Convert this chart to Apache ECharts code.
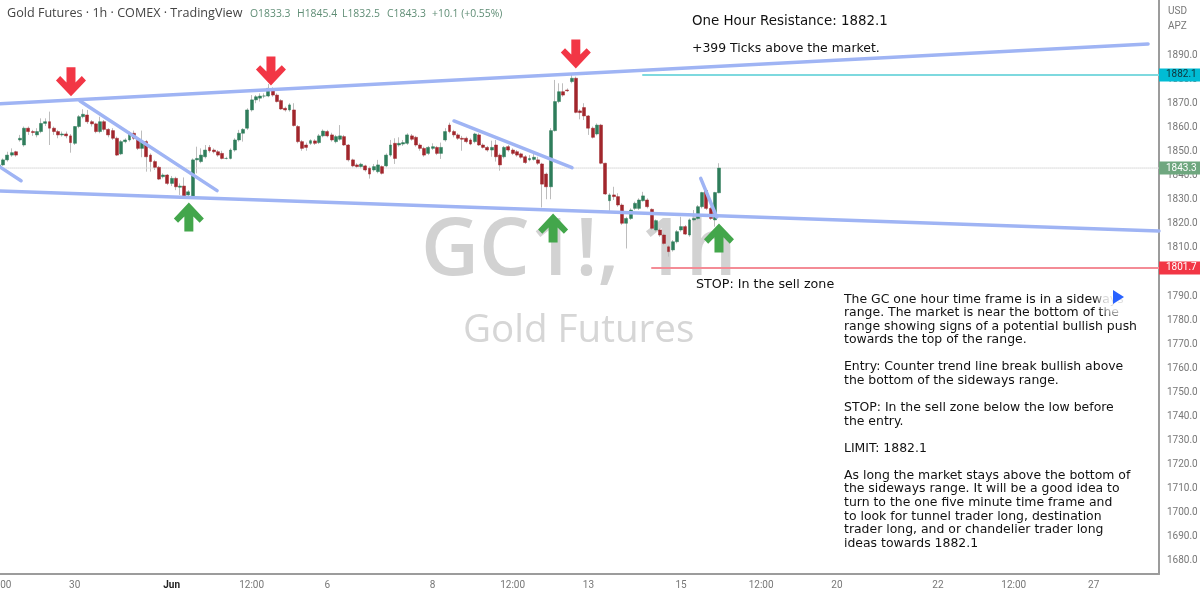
<!DOCTYPE html>
<html>
<head>
<meta charset="utf-8">
<title>Gold Futures 1h</title>
<script src="https://cdn.jsdelivr.net/npm/echarts@6/dist/echarts.min.js"></script>
<style>
html, body { margin: 0; padding: 0; background: #fff; }
#main { width: 1200px; height: 594px; }
</style>
</head>
<body>
<div id="main"></div>
<script>
// candles, left to right
var opens = [
  1843.2,1844.6,1846.7,1848.7,1850.1,1855.0,1852.9,1859.9,1858.5,1857.1,
  1858.5,1861.9,1862.6,1859.9,1858.5,1857.1,1857.5,1856.7,1853.6,1860.6,
  1864.7,1865.4,1862.6,1861.7,1858.5,1862.6,1859.4,1858.9,1855.7,1849.2,
  1854.3,1855.0,1857.8,1855.3,1851.5,1854.3,1848.7,1846.0,1843.6,1839.7,
  1840.4,1836.9,1839.0,1835.3,1835.8,1832.1,1831.4,1846.7,1846.0,1848.0,
  1851.9,1850.8,1850.1,1849.4,1847.3,1847.3,1850.8,1855.0,1857.8,1859.9,
  1867.5,1871.7,1872.4,1873.3,1873.3,1876.1,1873.7,1871.4,1868.2,1867.5,
  1867.5,1860.6,1854.3,1852.9,1853.6,1854.6,1853.9,1856.7,1858.5,1857.1,
  1854.3,1855.3,1856.4,1852.9,1846.7,1844.6,1843.9,1844.2,1843.2,1842.5,
  1841.8,1843.9,1844.2,1848.7,1853.6,1852.9,1853.3,1853.6,1856.7,1856.1,
  1852.9,1851.5,1849.4,1851.5,1851.9,1849.4,1855.0,1861.2,1858.5,1857.1,
  1855.7,1855.7,1855.0,1854.3,1857.1,1852.9,1851.9,1850.8,1852.9,1848.7,
  1848.0,1852.2,1850.8,1850.1,1849.2,1848.0,1846.7,1846.9,1846.7,1845.0,
  1840.8,1835.5,1858.9,1871.0,1875.1,1875.8,1879.3,1880.7,1867.1,1868.5,
  1865.0,1859.9,1857.5,1861.2,1845.3,1829.7,1832.1,1831.4,1827.9,1820.3,
  1822.3,1826.5,1826.5,1829.7,1830.0,1826.1,1817.5,1817.5,1815.4,1810.5,
  1809.2,1812.6,1817.5,1818.9,1815.4,1821.7,1822.3,1827.2,1833.9,1826.5,1821.7,1833.0
];
var closes = [
  1844.6,1846.7,1848.7,1849.7,1848.7,1855.7,1859.9,1858.5,1858.1,1858.5,
  1861.9,1862.6,1859.9,1858.5,1857.1,1857.5,1856.7,1853.9,1860.6,1864.7,
  1865.7,1862.6,1861.7,1858.5,1862.6,1859.4,1857.1,1855.7,1848.7,1854.3,
  1855.0,1857.5,1855.7,1851.5,1854.3,1848.0,1846.0,1843.6,1838.7,1840.4,
  1836.9,1839.0,1835.5,1835.8,1831.4,1833.4,1846.7,1847.3,1848.7,1850.8,
  1850.5,1850.1,1848.7,1847.3,1847.3,1850.8,1855.0,1857.8,1859.4,1867.5,
  1871.7,1873.0,1873.3,1873.3,1876.5,1873.7,1871.0,1867.9,1867.5,1869.6,
  1861.0,1854.3,1851.5,1851.9,1854.7,1853.6,1856.7,1858.7,1856.7,1855.0,
  1856.4,1856.7,1852.9,1846.7,1844.2,1843.9,1844.9,1842.5,1840.8,1843.9,
  1844.6,1841.1,1848.7,1852.9,1847.3,1853.6,1853.9,1857.1,1855.3,1852.9,
  1851.5,1848.7,1851.9,1852.2,1849.4,1851.9,1858.5,1858.5,1857.1,1855.7,
  1855.3,1854.3,1853.3,1857.5,1852.9,1851.9,1850.8,1851.9,1848.0,1844.6,
  1851.9,1850.8,1849.4,1848.7,1847.8,1845.6,1847.3,1847.8,1845.3,1836.6,
  1835.5,1858.9,1871.0,1875.1,1873.7,1875.5,1880.7,1866.5,1866.4,1865.0,
  1859.9,1856.1,1861.2,1845.3,1832.5,1832.1,1831.4,1827.9,1820.3,1822.3,
  1825.8,1828.6,1830.0,1831.7,1827.2,1818.2,1821.4,1815.4,1811.9,1808.5,
  1812.6,1816.8,1818.9,1815.8,1821.7,1822.3,1827.2,1833.1,1826.5,1822.3,1833.1,1843.3
];
var highs = [
  1846.0,1847.3,1850.1,1851.5,1850.5,1857.1,1860.6,1860.6,1859.2,1859.9,
  1864.0,1864.0,1866.8,1860.6,1859.2,1858.5,1858.5,1857.5,1860.8,1865.4,
  1867.8,1867.5,1863.3,1862.2,1864.7,1863.3,1859.9,1859.9,1856.4,1855.0,
  1855.7,1858.5,1858.9,1856.1,1858.9,1855.0,1849.4,1846.7,1844.2,1841.1,
  1840.8,1840.0,1839.7,1836.9,1839.4,1834.1,1847.3,1852.2,1851.5,1852.9,
  1852.9,1851.5,1850.8,1850.5,1848.0,1851.5,1855.7,1859.2,1859.9,1868.2,
  1873.7,1873.7,1874.4,1874.4,1878.3,1876.9,1874.4,1872.0,1868.9,1870.3,
  1870.3,1861.2,1855.0,1853.9,1855.3,1855.3,1857.5,1859.4,1859.2,1858.0,
  1857.1,1861.2,1857.1,1853.3,1847.2,1845.3,1845.5,1844.7,1843.9,1845.0,
  1846.7,1844.4,1849.4,1855.0,1855.7,1856.1,1855.0,1857.8,1857.5,1856.7,
  1853.6,1852.2,1852.5,1853.6,1852.5,1853.9,1859.9,1862.2,1859.2,1857.8,
  1856.7,1856.4,1855.7,1858.0,1857.8,1853.6,1852.5,1854.7,1855.0,1849.4,
  1852.5,1852.9,1851.5,1850.8,1849.7,1848.7,1848.7,1849.4,1848.0,1845.5,
  1841.4,1859.9,1880.0,1878.6,1878.6,1876.5,1882.5,1881.4,1867.8,1870.3,
  1865.4,1860.6,1861.9,1861.7,1845.5,1832.8,1835.5,1832.8,1828.6,1823.0,
  1826.5,1829.3,1830.7,1833.4,1830.7,1826.5,1821.9,1818.2,1816.1,1811.2,
  1813.3,1817.5,1823.0,1819.6,1822.3,1825.8,1827.9,1833.4,1834.4,1827.2,1833.4,1845.3
];
var lows = [
  1841.8,1844.2,1846.0,1848.0,1848.0,1854.3,1852.2,1857.1,1856.7,1856.1,
  1857.8,1860.8,1852.9,1857.1,1855.7,1856.4,1855.7,1849.7,1852.9,1859.9,
  1864.0,1861.7,1860.6,1857.8,1857.8,1858.5,1856.1,1855.0,1848.3,1848.7,
  1853.6,1854.3,1855.0,1850.8,1847.8,1841.8,1841.8,1842.5,1838.3,1839.0,
  1836.2,1835.8,1834.1,1832.1,1831.1,1831.4,1831.1,1841.1,1845.3,1847.3,
  1849.7,1849.4,1848.0,1846.9,1846.9,1846.9,1850.1,1854.3,1854.3,1859.2,
  1866.8,1870.3,1871.0,1872.4,1872.8,1873.0,1870.6,1867.5,1866.8,1866.8,
  1860.6,1853.6,1850.5,1850.5,1852.9,1852.9,1853.3,1856.1,1856.1,1854.3,
  1853.6,1854.7,1852.5,1846.0,1843.6,1843.3,1843.2,1841.8,1838.9,1841.8,
  1841.1,1840.6,1843.6,1848.0,1845.0,1852.2,1852.5,1852.9,1854.7,1852.2,
  1850.5,1848.0,1848.7,1850.8,1848.7,1847.1,1854.3,1857.8,1856.1,1855.0,
  1850.5,1853.6,1852.8,1853.6,1852.5,1851.4,1850.1,1848.0,1846.0,1842.2,
  1847.3,1850.1,1848.7,1848.0,1847.2,1845.0,1846.1,1846.4,1844.6,1826.9,
  1830.3,1830.3,1858.5,1870.3,1873.0,1875.0,1878.6,1866.1,1863.6,1863.3,
  1857.1,1855.6,1856.9,1844.9,1832.1,1825.5,1830.0,1827.2,1819.6,1809.8,
  1821.7,1825.8,1825.8,1829.3,1826.5,1817.5,1816.8,1814.7,1811.2,1806.4,
  1808.5,1811.9,1816.8,1815.4,1814.7,1821.0,1821.7,1826.5,1825.8,1821.7,1818.9,1832.8
];

// bars before the first candle sit off the left edge of the page
var barCount = 280;
var firstBar = 4;

// tick labels of the time axis, by bar number
var timeTickBars = [4, 22, 45, 64, 82, 107, 126, 144, 166, 185, 203, 227, 245, 264];
var timeTickText = ['12:00', '30', 'Jun', '12:00', '6', '8', '12:00', '13', '15', '12:00', '20', '22', '12:00', '27'];

var priceTicks = [1680,1690,1700,1710,1720,1730,1740,1750,1760,1770,1780,1790,1800,1810,1820,1830,1840,1850,1860,1870,1880,1890];

// drawn lines as [bar number, price]
var resistanceLine = [[-0.5, 1869.6], [276.9, 1895.0]];
var supportLine = [[-0.5, 1834.0], [279.5, 1817.1]];
var counterLines = [
  [[-0.5, 1849.2], [9.24, 1838.0]],
  [[23.25, 1871.25], [55.8, 1833.9]],
  [[112.07, 1862.9], [140.1, 1843.5]],
  [[170.66, 1839.0], [174.46, 1822.9]]
];
var limitLine = [[156.95, 1882.1], [279.5, 1882.1]];
var stopLine = [[159.1, 1801.7], [279.5, 1801.7]];
var lastLine = [[-0.5, 1843.3], [279.5, 1843.3]];

var redArrows = [[21.11, 1879.2], [68.6, 1883.75], [141.0, 1890.8]];
var greenArrows = [[49.1, 1822.9], [135.6, 1818.3], [175.0, 1814.2]];

var legendText = ['O1833.3', 'H1845.4', 'L1832.5', 'C1843.3', '+10.1 (+0.55%)'];

var noteLines = [
  'The GC one hour time frame is in a sideways',
  'range. The market is near the bottom of the',
  'range showing signs of a potential bullish push',
  'towards the top of the range.',
  '',
  'Entry: Counter trend line break bullish above',
  'the bottom of the sideways range.',
  '',
  'STOP: In the sell zone below the low before',
  'the entry.',
  '',
  'LIMIT: 1882.1',
  '',
  'As long the market stays above the bottom of',
  'the sideways range. It will be a good idea to',
  'turn to the one five minute time frame and',
  'to look for tunnel trader long, destination',
  'trader long, and or chandelier trader long',
  'ideas towards 1882.1'
];

var GREEN = '#2e7d5b';
var RED = '#a1262c';
var WICK = '#bdbdbd';
var TREND = '#9fb4f4';
var UI_FONT = '"Open Sans", "Noto Sans", sans-serif';
var AXIS_FONT = 'Roboto, "Open Sans", sans-serif';
var NOTE_FONT = '"DejaVu Sans", sans-serif';

var downArrow = 'path://M35,0 L65,0 L65,52 L86,30 L100,45 L50,100 L0,45 L14,30 L35,52 Z';
var upArrow = 'path://M35,100 L65,100 L65,48 L86,70 L100,55 L50,0 L0,55 L14,70 L35,48 Z';

var categories = [];
for (var i = 0; i < barCount; i++) {
  var at = timeTickBars.indexOf(i);
  categories.push(at >= 0 ? timeTickText[at] : '');
}

function padded(list) {
  var out = [];
  for (var i = 0; i < firstBar; i++) out.push('-');
  return out.concat(list);
}

var wickData = padded(opens.map(function (o, i) {
  return [o, closes[i], lows[i], highs[i]];
}));
var bodyData = padded(opens.map(function (o, i) {
  return [o, closes[i], Math.min(o, closes[i]), Math.max(o, closes[i])];
}));

function trend(data, color, width) {
  return {
    type: 'line', xAxisIndex: 1, data: data, symbol: 'none', silent: true, z: 4,
    lineStyle: {color: color, width: width, cap: 'round'}
  };
}

function priceLine(data, color, type, width, badge, badgeColor, textColor) {
  var s = trend(data, color, width);
  s.z = 3;
  s.lineStyle.type = type;
  s.endLabel = {
    show: true, distance: 0, formatter: badge, color: textColor, backgroundColor: badgeColor,
    fontFamily: AXIS_FONT, fontSize: 10, padding: [1.5, 7, 1.5, 7], lineHeight: 10
  };
  return s;
}

var series = [
  {type: 'candlestick', data: wickData, barWidth: 1, z: 2, silent: true,
    itemStyle: {color: WICK, color0: WICK, borderColor: WICK, borderColor0: WICK, borderWidth: 1}},
  {type: 'candlestick', data: bodyData, barWidth: 3.4, z: 3, silent: true,
    itemStyle: {color: GREEN, color0: RED, borderColor: GREEN, borderColor0: RED, borderWidth: 0.5}},
  trend(resistanceLine, TREND, 3.5),
  trend(supportLine, TREND, 3.5),
  priceLine(limitLine, '#7ed9df', 'solid', 2, '1882.1', '#00bcd4', '#10343a'),
  priceLine(stopLine, '#f48c96', 'solid', 2, '1801.7', '#f23645', '#ffffff'),
  priceLine(lastLine, '#d8d8d8', 'dotted', 1, '1843.3', '#6fa77f', '#ffffff'),
  {type: 'scatter', xAxisIndex: 1, data: redArrows, symbol: downArrow, symbolSize: [30, 29], silent: true, z: 6,
    itemStyle: {color: '#f23645', opacity: 1}},
  {type: 'scatter', xAxisIndex: 1, data: greenArrows, symbol: upArrow, symbolSize: [30, 29], silent: true, z: 6,
    itemStyle: {color: '#43a64b', opacity: 1}}
];
counterLines.forEach(function (line) {
  series.push(trend(line, TREND, 3.5));
});

var notes = noteLines.map(function (line, i) {
  return {
    type: 'text', x: 844, y: 293.5 + i * 13.55, z: 10, silent: true,
    style: {text: line, fill: '#111', font: '12.45px ' + NOTE_FONT}
  };
});

var legendX = [250, 297, 342, 387, 432];
var legendItems = legendText.map(function (t, i) {
  return {
    type: 'text', x: legendX[i], y: 9, z: 10, silent: true,
    style: {text: t, fill: '#5f8d75', font: '10.4px ' + UI_FONT}
  };
});

var myChart = echarts.init(document.getElementById('main'));
myChart.setOption({
  animation: false,
  backgroundColor: '#ffffff',
  grid: {left: -20, right: 41, top: 0, height: 574, containLabel: false, outerBoundsMode: 'none'},
  xAxis: [
    {
      type: 'category', data: categories, boundaryGap: true,
      axisLine: {lineStyle: {color: '#9c9c9c', width: 2}},
      axisTick: {show: false},
      splitLine: {show: false},
      axisLabel: {
        interval: 0, margin: 6, color: '#777', fontFamily: AXIS_FONT, fontSize: 10,
        formatter: function (v) { return v === 'Jun' ? '{b|Jun}' : v; },
        rich: {b: {color: '#222', fontFamily: AXIS_FONT, fontSize: 10, fontWeight: 'bold'}}
      }
    },
    {type: 'value', min: -0.5, max: 279.5, show: false, splitLine: {show: false}}
  ],
  yAxis: {
    type: 'value', position: 'right', min: 1674.2, max: 1913.3, scale: true,
    axisLine: {show: true, onZero: false, lineStyle: {color: '#9c9c9c', width: 2}},
    axisTick: {show: false},
    splitLine: {show: false},
    axisLabel: {
      customValues: priceTicks, margin: 8, color: '#777', fontFamily: AXIS_FONT, fontSize: 10,
      formatter: function (v) { return v.toFixed(1); }
    }
  },
  series: series,
  graphic: [
    {type: 'text', x: 421, y: 212, z: -1, silent: true,
      style: {text: 'GC1!, 1h', fill: '#d2d2d2', font: '600 80px ' + UI_FONT}},
    {type: 'text', x: 463, y: 312, z: -1, silent: true,
      style: {text: 'Gold Futures', fill: '#d6d6d6', font: '38.6px ' + UI_FONT}},
    {type: 'text', x: 7, y: 7, z: 10, silent: true,
      style: {text: 'Gold Futures · 1h · COMEX · TradingView', fill: '#444', font: '12.6px ' + UI_FONT}},
    {type: 'text', x: 1168, y: 6, z: 10, silent: true,
      style: {text: 'USD', fill: '#777', font: '10px ' + AXIS_FONT}},
    {type: 'text', x: 1168, y: 21, z: 10, silent: true,
      style: {text: 'APZ', fill: '#777', font: '10px ' + AXIS_FONT}},
    {type: 'text', x: 692, y: 15, z: 10, silent: true,
      style: {text: 'One Hour Resistance: 1882.1', fill: '#111', font: '13.4px ' + NOTE_FONT}},
    {type: 'text', x: 692, y: 42.5, z: 10, silent: true,
      style: {text: '+399 Ticks above the market.', fill: '#111', font: '12.45px ' + NOTE_FONT}},
    {type: 'text', x: 696, y: 278, z: 10, silent: true,
      style: {text: 'STOP: In the sell zone', fill: '#111', font: '12.7px ' + NOTE_FONT}}
  ].concat(legendItems).concat(notes).concat([
    {type: 'circle', shape: {cx: 1117, cy: 297, r: 22}, z: 11, silent: true,
      style: {fill: {type: 'radial', x: 0.5, y: 0.5, r: 0.5, colorStops: [
        {offset: 0, color: 'rgba(255,255,255,0.95)'},
        {offset: 0.6, color: 'rgba(255,255,255,0.8)'},
        {offset: 1, color: 'rgba(255,255,255,0.1)'}
      ]}}},
    {type: 'polygon', shape: {points: [[1113, 290], [1124, 297], [1113, 304]]}, z: 12, silent: true,
      style: {fill: '#2962ff'}}
  ])
});
</script>
</body>
</html>
